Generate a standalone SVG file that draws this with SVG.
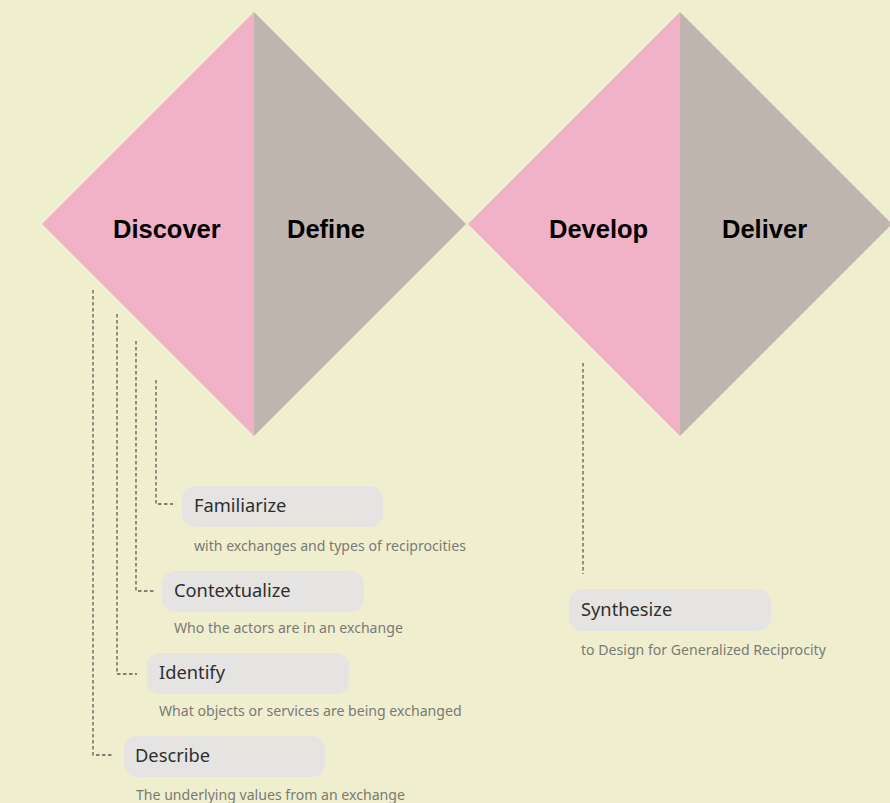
<svg xmlns="http://www.w3.org/2000/svg" width="890" height="803" viewBox="0 0 890 803">
  <style>
    .pink { fill: #F1B1C6; }
    .taupe { fill: #C1B5AF; }
    .phase { font-family: "Liberation Sans", Arial, sans-serif; font-weight: bold; font-size: 25.5px; fill: #000; }
    .box { fill: #E5E4E2; }
    .title { font-family: "Noto Sans", "Open Sans", sans-serif; font-size: 18.3px; fill: #2f2f2f; }
    .note { font-family: "Noto Sans", "Open Sans", sans-serif; font-size: 14.1px; fill: #7a7a74; }
    .link { fill: none; stroke: #5c5c58; stroke-width: 1.3; stroke-dasharray: 3.5 2.5; }
  </style>
  <rect width="890" height="803" fill="#EFEFD0"/>

  <!-- first diamond: Discover / Define -->
  <g id="discover">
    <polygon class="pink" points="254,12 254,436 42,224"/>
    <text class="phase" x="113" y="238">Discover</text>
  </g>
  <g id="define">
    <polygon class="taupe" points="254,12 466,224 254,436"/>
    <text class="phase" x="287" y="238">Define</text>
  </g>

  <!-- second diamond: Develop / Deliver -->
  <g id="develop">
    <polygon class="pink" points="680,12 680,436 468,224"/>
    <text class="phase" x="549" y="238">Develop</text>
  </g>
  <g id="deliver">
    <polygon class="taupe" points="680,12 892,224 680,436"/>
    <text class="phase" x="722" y="238">Deliver</text>
  </g>

  <!-- dashed leaders -->
  <g id="connectors">
    <path class="link" d="M156,380 V504 H173"/>
    <path class="link" d="M136,341 V591 H154"/>
    <path class="link" d="M117,314 V674 H137"/>
    <path class="link" d="M93,290 V755 H113"/>
    <path class="link" d="M583,363 V574"/>
  </g>

  <!-- activity cards -->
  <g id="familiarize">
    <rect class="box" x="182" y="486" width="201" height="41" rx="13"/>
    <text class="title" x="194" y="512">Familiarize</text>
    <text class="note" x="194" y="551">with exchanges and types of reciprocities</text>
  </g>
  <g id="contextualize">
    <rect class="box" x="162" y="571" width="202" height="41" rx="13"/>
    <text class="title" x="174" y="597">Contextualize</text>
    <text class="note" x="174" y="633">Who the actors are in an exchange</text>
  </g>
  <g id="identify">
    <rect class="box" x="147" y="653" width="202" height="41" rx="13"/>
    <text class="title" x="159" y="679">Identify</text>
    <text class="note" x="159" y="716">What objects or services are being exchanged</text>
  </g>
  <g id="describe">
    <rect class="box" x="124" y="736" width="201" height="41" rx="13"/>
    <text class="title" x="135" y="762">Describe</text>
    <text class="note" x="136" y="800">The underlying values from an exchange</text>
  </g>
  <g id="synthesize">
    <rect class="box" x="569" y="589" width="202" height="42" rx="13"/>
    <text class="title" x="581" y="616">Synthesize</text>
    <text class="note" x="581" y="655">to Design for Generalized Reciprocity</text>
  </g>
</svg>
